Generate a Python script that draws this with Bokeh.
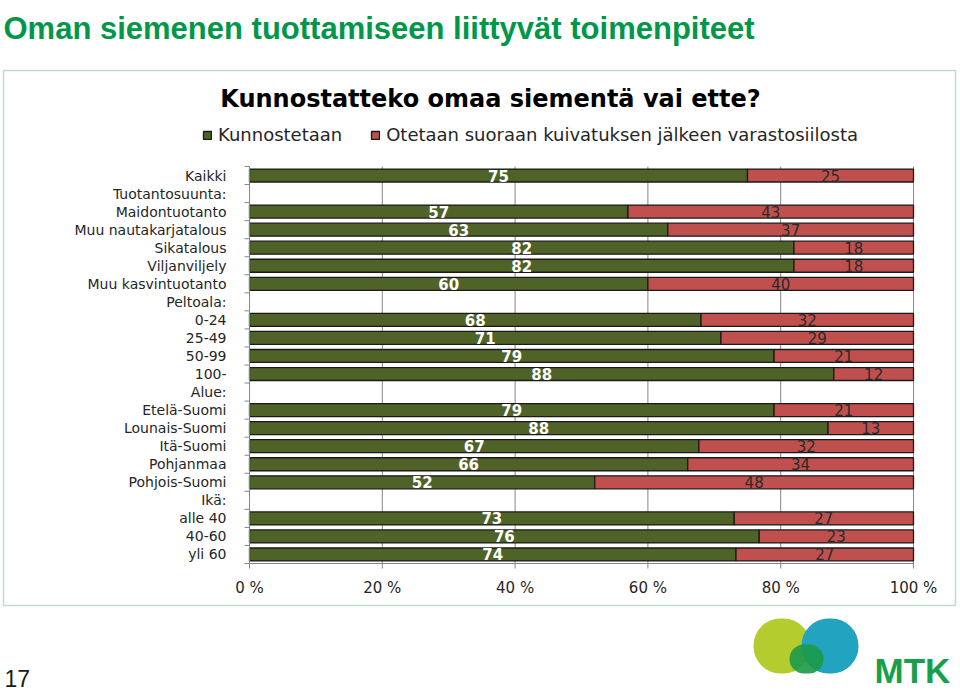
from bokeh.plotting import figure
from bokeh.models import (ColumnDataSource, Range1d, Label, Legend, LegendItem,
                          BoxAnnotation)
from bokeh.core.properties import value
from bokeh.embed import file_html
from bokeh.resources import INLINE

# ---------------- data ----------------
categories = ["Kaikki", "Tuotantosuunta:", "Maidontuotanto", "Muu nautakarjatalous",
              "Sikatalous", "Viljanviljely", "Muu kasvintuotanto", "Peltoala:",
              "0-24", "25-49", "50-99", "100-", "Alue:", "Etelä-Suomi",
              "Lounais-Suomi", "Itä-Suomi", "Pohjanmaa", "Pohjois-Suomi", "Ikä:",
              "alle 40", "40-60", "yli 60"]
bar_categories = ["Kaikki", "Maidontuotanto", "Muu nautakarjatalous", "Sikatalous",
                  "Viljanviljely", "Muu kasvintuotanto", "0-24", "25-49", "50-99",
                  "100-", "Etelä-Suomi", "Lounais-Suomi", "Itä-Suomi", "Pohjanmaa",
                  "Pohjois-Suomi", "alle 40", "40-60", "yli 60"]
kunnostetaan = [75, 57, 63, 82, 82, 60, 68, 71, 79, 88, 79, 88, 67, 66, 52, 73, 76, 74]
otetaan = [25, 43, 37, 18, 18, 40, 32, 29, 21, 12, 21, 13, 32, 34, 48, 27, 23, 27]
series_names = ["Kunnostetaan", "Otetaan suoraan kuivatuksen jälkeen varastosiilosta"]
x_ticks = [0, 20, 40, 60, 80, 100]
x_tick_labels = ["0 %", "20 %", "40 %", "60 %", "80 %", "100 %"]
page_title = "Oman siemenen tuottamiseen liittyvät toimenpiteet"
chart_title = "Kunnostatteko omaa siementä vai ette?"
page_number = "17"
logo_text = "MTK"

# ---------------- style / layout ----------------
GREEN = "#4f6228"
RED = "#c0504d"
GRID = "#868686"
TXT = "#262626"
FONT = "DejaVu Sans"
W, H = 960, 692
FRAME_LEFT, FRAME_RIGHT = 249, 913      # pixel extent of the 0..100 % area
FRAME_TOP, FRAME_BOTTOM = 166, 563      # pixel extent of the category rows
PX_PER_PCT = (FRAME_RIGHT - FRAME_LEFT) / 100.0
ROW_PX = (FRAME_BOTTOM - FRAME_TOP) / len(categories)

row_of = {c: i for i, c in enumerate(categories)}
bar_rows = [row_of[c] for c in bar_categories]
n = len(categories)
top_edge = -0.5
bottom_edge = n - 0.5

# 100 % stacked shares
g_share = [100.0 * g / (g + r) for g, r in zip(kunnostetaan, otetaan)]
r_share = [100.0 * r / (g + r) for g, r in zip(kunnostetaan, otetaan)]
src = ColumnDataSource(dict(
    row=bar_rows, g=g_share, r=r_share,
    gx=[s / 2 for s in g_share],
    rx=[s + t / 2 for s, t in zip(g_share, r_share)],
    gl=[str(v) for v in kunnostetaan],
    rl=[str(v) for v in otetaan],
))

x_range = Range1d(-FRAME_LEFT / PX_PER_PCT, (W - FRAME_LEFT) / PX_PER_PCT)
y_range = Range1d(top_edge + (H - FRAME_TOP) / ROW_PX,   # bottom of canvas
                  top_edge - FRAME_TOP / ROW_PX)         # top of canvas

p = figure(width=W, height=H, x_range=x_range, y_range=y_range,
           x_axis_type=None, y_axis_type=None,
           output_backend="svg", toolbar_location=None,
           min_border=0, min_border_left=0, min_border_right=0,
           min_border_top=0, min_border_bottom=0)
p.background_fill_color = "white"
p.border_fill_color = "white"
p.outline_line_color = None
p.grid.visible = False

# vertical grid lines
gx_ticks = x_ticks[1:]
p.segment(x0=gx_ticks, y0=[top_edge] * len(gx_ticks), x1=gx_ticks,
          y1=[bottom_edge] * len(gx_ticks), line_color=GRID, line_width=1)

rs = p.hbar_stack(["g", "r"], y="row", height=0.72, fill_color=[GREEN, RED],
                  line_color="#1a1a1a", line_width=1.3, source=src)

# axis lines and ticks
p.segment(x0=[0, 0], y0=[top_edge, bottom_edge], x1=[0, 100],
          y1=[bottom_edge, bottom_edge], line_color=GRID, line_width=1)
tick_len_y = 5 / ROW_PX
p.segment(x0=x_ticks, y0=[bottom_edge] * len(x_ticks), x1=x_ticks,
          y1=[bottom_edge + tick_len_y] * len(x_ticks), line_color=GRID, line_width=1)
bounds = [k - 0.5 for k in range(n + 1)]
tick_len_x = 5 / PX_PER_PCT
p.segment(x0=[-tick_len_x] * len(bounds), y0=bounds, x1=[0] * len(bounds), y1=bounds,
          line_color=GRID, line_width=1)

# tick labels
p.text(x=x_ticks, y=[bottom_edge] * len(x_ticks), text=x_tick_labels, y_offset=24,
       text_align="center", text_baseline="middle", text_color=TXT,
       text_font=value(FONT), text_font_size="15px")
p.text(x=[0] * n, y=list(range(n)), text=categories, x_offset=-23,
       text_align="right", text_baseline="middle", text_color=TXT,
       text_font=value(FONT), text_font_size="14px")

# value labels
p.text(x="gx", y="row", text="gl", source=src, text_align="center",
       text_baseline="middle", text_color="white", text_font=value(FONT),
       text_font_style="bold", text_font_size="15px")
p.text(x="rx", y="row", text="rl", source=src, text_align="center",
       text_baseline="middle", text_color="#2a2a2a", text_font=value(FONT),
       text_font_size="15px")

# helpers: reference-image pixel -> screen units (from bottom-left of canvas)
def sx(rx):
    return rx

def sy(ry):
    return H - ry

# legend
legend = Legend(items=[LegendItem(label=series_names[0], renderers=[rs[0]]),
                       LegendItem(label=series_names[1], renderers=[rs[1]])],
                orientation="horizontal", location=(sx(202), sy(145)),
                glyph_width=10, glyph_height=10, label_standoff=6, spacing=28,
                padding=0, margin=0, border_line_color=None,
                background_fill_alpha=0,
                label_text_font=FONT, label_text_font_size="18px",
                label_text_color=TXT)
p.add_layout(legend)

# chart frame box
p.add_layout(BoxAnnotation(left=sx(3), right=sx(955), top=sy(70), bottom=sy(605),
                           left_units="screen", right_units="screen",
                           top_units="screen", bottom_units="screen",
                           fill_alpha=0, line_color="#2f8f5a", line_width=1.5))

p.add_layout(Label(x=sx(3), y=sy(28), x_units="screen", y_units="screen",
                   text=page_title, text_font="Liberation Sans",
                   text_font_style="bold", text_font_size="31px",
                   text_color="#00974a", text_baseline="alphabetic"))
p.add_layout(Label(x=sx(490), y=sy(98), x_units="screen", y_units="screen",
                   text=chart_title, text_font=FONT, text_font_style="bold",
                   text_font_size="24px", text_color="black",
                   text_align="center", text_baseline="middle"))
p.add_layout(Label(x=sx(4), y=sy(678), x_units="screen", y_units="screen",
                   text=page_number, text_font="Liberation Sans",
                   text_font_size="23px", text_color="#1a1a1a",
                   text_baseline="alphabetic"))

# logo
p.add_layout(BoxAnnotation(left=sx(753), right=sx(810), top=sy(618), bottom=sy(673),
                           left_units="screen", right_units="screen",
                           top_units="screen", bottom_units="screen",
                           fill_color="#b4cc2e", fill_alpha=1, line_color=None,
                           border_radius=27))
p.add_layout(BoxAnnotation(left=sx(801), right=sx(858), top=sy(618), bottom=sy(673),
                           left_units="screen", right_units="screen",
                           top_units="screen", bottom_units="screen",
                           fill_color="#22a3c0", fill_alpha=1, line_color=None,
                           border_radius=27))
p.add_layout(BoxAnnotation(left=sx(789), right=sx(823), top=sy(644), bottom=sy(673),
                           left_units="screen", right_units="screen",
                           top_units="screen", bottom_units="screen",
                           fill_color="#1c9a48", fill_alpha=0.9, line_color=None,
                           border_radius=15))
p.add_layout(Label(x=sx(874), y=sy(670), x_units="screen", y_units="screen",
                   text=logo_text, text_font="Liberation Sans", text_font_style="bold",
                   text_font_size="35px", text_color="#17a04b",
                   text_baseline="alphabetic"))

open("out.html", "w").write(file_html(p, INLINE))
